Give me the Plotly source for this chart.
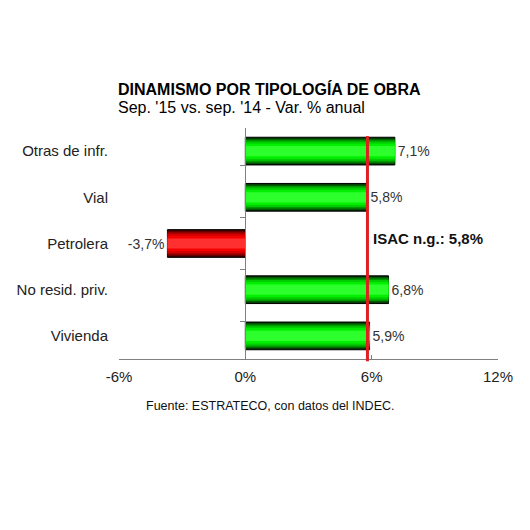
import plotly.graph_objects as go

categories = ["Otras de infr.", "Vial", "Petrolera", "No resid. priv.", "Vivienda"]
values = [7.1, 5.8, -3.7, 6.8, 5.9]
isac_value = 5.8
isac_label = "ISAC n.g.: 5,8%"
x_ticks = [-6, 0, 6, 12]
x_tick_labels = ["-6%", "0%", "6%", "12%"]
title = "DINAMISMO POR TIPOLOGÍA DE OBRA"
subtitle = "Sep. '15 vs. sep. '14 - Var. % anual"
source = "Fuente: ESTRATECO, con datos del INDEC."

FONT = "Liberation Sans, Arial, sans-serif"
OFF = 8  # page body margin
W, H = 530 - OFF, 530 - OFF
L, R, T, B = 119 - OFF, 32, 128 - OFF, 171
pw, ph = W - L - R, H - T - B

def px_x(px):
    return (px - OFF - L) / pw

def px_y(py):
    return (H - B - (py - OFF)) / ph

green_layers = ["#002800", "#005a00", "#009600", "#00cc00", "#00f000", "#2cff2c"]
red_layers = ["#2a0000", "#660000", "#a00000", "#d40000", "#f60000", "#ff3030"]
widths = [0.6, 0.55, 0.49, 0.42, 0.33, 0.22]

fig = go.Figure()
for i, (w, g, r) in enumerate(zip(widths, green_layers, red_layers)):
    colors = [g if v >= 0 else r for v in values]
    fig.add_trace(go.Bar(
        x=values, y=categories, orientation="h", width=w,
        marker=dict(color=colors, line=dict(color="#000000", width=1 if i == 0 else 0)),
        text=values if i == 0 else None,
        texttemplate="%{x:.1f}%" if i == 0 else None,
        textposition="outside" if i == 0 else "none",
        textfont=dict(family=FONT, size=14, color="#333333"),
        cliponaxis=False, hoverinfo="skip", showlegend=False,
    ))

# invisible trace for the axis at x=0 with boundary ticks
fig.add_trace(go.Scatter(x=[0] * len(categories), y=categories, yaxis="y2",
                         mode="none", showlegend=False, hoverinfo="skip"))

fig.add_shape(type="line", xref="x", yref="paper", x0=isac_value, x1=isac_value,
              y0=-0.01, y1=0.965, line=dict(color="#e02020", width=3))

fig.add_annotation(x=isac_value, y="Petrolera", xref="x", yref="y", text="<b>" + isac_label + "</b>",
                   showarrow=False, xanchor="left", xshift=4, yshift=5,
                   font=dict(family=FONT, size=15, color="#111111"))

fig.add_annotation(x=px_x(116), y=px_y(89), xref="paper", yref="paper", text="<b>" + title + "</b>",
                   showarrow=False, xanchor="left", yanchor="middle",
                   font=dict(family=FONT, size=16, color="#000000"))
fig.add_annotation(x=px_x(116), y=px_y(107), xref="paper", yref="paper", text=subtitle,
                   showarrow=False, xanchor="left", yanchor="middle",
                   font=dict(family=FONT, size=16, color="#000000"))
fig.add_annotation(x=px_x(270), y=px_y(406), xref="paper", yref="paper", text=source,
                   showarrow=False, xanchor="center", yanchor="middle",
                   font=dict(family=FONT, size=12.5, color="#111111"))

fig.update_layout(
    width=W, height=H, autosize=False,
    margin=dict(l=L, r=R, t=T, b=B),
    paper_bgcolor="white", plot_bgcolor="white",
    barmode="overlay", separators=",.",
    font=dict(family=FONT, size=15, color="#222222"),
    xaxis=dict(range=[-6, 12], tickvals=x_ticks, ticktext=x_tick_labels, showgrid=False, zeroline=False,
               showline=True, linecolor="#808080", linewidth=1, ticks="inside", ticklen=4,
               tickcolor="#808080", automargin=False, ticklabelstandoff=4,
               tickfont=dict(family=FONT, size=15, color="#222222")),
    yaxis=dict(categoryorder="array", categoryarray=categories, autorange="reversed",
               showgrid=False, zeroline=False, showline=False, ticks="", automargin=False,
               ticklabelstandoff=10, tickfont=dict(family=FONT, size=15, color="#222222")),
    yaxis2=dict(overlaying="y", anchor="free", position=1 / 3, categoryorder="array",
                categoryarray=categories, autorange="reversed", showticklabels=False,
                showgrid=False, zeroline=False, showline=True, linecolor="#808080", linewidth=1,
                ticks="outside", ticklen=5, tickcolor="#808080", tickson="boundaries",
                automargin=False),
)

fig.write_html("out.html")
